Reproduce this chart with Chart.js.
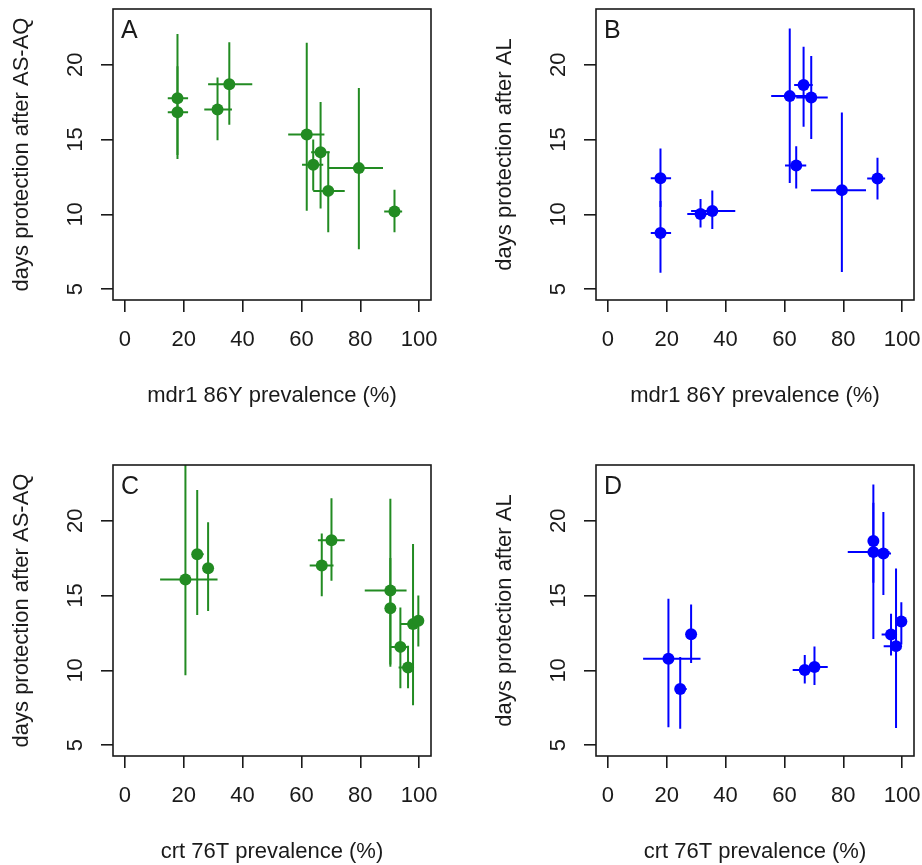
<!DOCTYPE html>
<html>
<head>
<meta charset="utf-8">
<script src="https://cdn.jsdelivr.net/npm/chart.js@4/dist/chart.umd.min.js"></script>
<style>
    body { margin: 0; background: #fff; }
    #wrap { position: relative; width: 922px; height: 865px; }
    canvas { position: absolute; }
</style>
</head>
<body>
<div id="wrap">
    <canvas id="panelA" width="439" height="409" style="left:0px;top:0px"></canvas>
    <canvas id="panelB" width="439" height="409" style="left:483px;top:0px"></canvas>
    <canvas id="panelC" width="439" height="409" style="left:0px;top:456px"></canvas>
    <canvas id="panelD" width="439" height="409" style="left:483px;top:456px"></canvas>
</div>
<script>
// one entry per study site
const crt = [20.6, 24.6, 28.3, 66.9, 70.2, 90.2, 90.2, 93.6, 96.2, 97.9, 99.7]
const crtLo = [12.0, 23.0, 27.4, 62.8, 65.6, 81.5, 89.0, 90.2, 93.0, 93.7, 98.9]
const crtHi = [31.5, 26.8, 29.3, 70.9, 74.7, 95.7, 91.4, 96.2, 98.2, 99.7, 100.4]

const mdr = [null, 17.9, 17.9, 31.5, 35.5, 61.8, 66.5, 69.1, 91.6, 79.5, 64.0]
const mdrLo = [null, 14.6, 14.6, 27.0, 28.3, 55.5, 63.3, 64.0, 88.1, 69.0, 60.2]
const mdrHi = [null, 21.5, 21.5, 36.4, 43.3, 67.8, 69.6, 74.7, 94.2, 87.7, 67.4]

const asaq = [16.07, 17.75, 16.83, 17.0, 18.7, 15.33, 14.15, 11.57, 10.2, 13.09, 13.32]
const asaqLo = [9.67, 13.7, 13.96, 14.95, 15.98, 10.24, 10.4, 8.8, 8.8, 7.67, 11.6]
const asaqHi = [25.5, 22.05, 19.9, 19.15, 21.5, 21.46, 17.5, 14.2, 11.65, 18.45, 15.0]

const al = [10.78, 8.75, 12.42, 10.03, 10.23, 17.9, 18.64, 17.8, 12.4, 11.62, 13.26]
const alLo = [6.2, 6.1, 10.5, 9.13, 9.03, 12.1, 15.85, 15.03, 11.0, 6.15, 11.73]
const alHi = [14.78, 10.9, 14.4, 11.03, 11.6, 22.42, 21.2, 20.58, 13.78, 16.8, 14.55]

const xTicks = [0, 20, 40, 60, 80, 100]
const yTicks = [5, 10, 15, 20]

const GREEN = '#228B22'
const BLUE = '#0000FF'
const INK = '#1a1a1a'
const FONT = '"Liberation Sans", Arial, Helvetica, sans-serif'

Chart.defaults.font.family = FONT
Chart.defaults.font.size = 22
Chart.defaults.color = INK

// error bars, frame, panel letter and rotated y labels (R style)
const rDecor = {
    id: 'rDecor',
    beforeDatasetsDraw(chart) {
        const ctx = chart.ctx
        const a = chart.chartArea
        const sx = chart.scales.x
        const sy = chart.scales.y
        ctx.save()
        ctx.beginPath()
        ctx.rect(a.left, a.top, a.right - a.left, a.bottom - a.top)
        ctx.clip()
        chart.data.datasets.forEach(ds => {
            ctx.strokeStyle = ds.backgroundColor
            ctx.lineWidth = 2
            ds.data.forEach(p => {
                const px = sx.getPixelForValue(p.x)
                const py = sy.getPixelForValue(p.y)
                ctx.beginPath()
                ctx.moveTo(sx.getPixelForValue(p.xMin), py)
                ctx.lineTo(sx.getPixelForValue(p.xMax), py)
                ctx.moveTo(px, sy.getPixelForValue(p.yMin))
                ctx.lineTo(px, sy.getPixelForValue(p.yMax))
                ctx.stroke()
            })
        })
        ctx.restore()
    },
    afterDraw(chart, args, opts) {
        const ctx = chart.ctx
        const a = chart.chartArea
        const sy = chart.scales.y
        ctx.save()
        ctx.strokeStyle = INK
        ctx.lineWidth = 1.6
        ctx.strokeRect(a.left, a.top, a.right - a.left, a.bottom - a.top)

        ctx.fillStyle = INK
        ctx.font = '25px ' + FONT
        ctx.textAlign = 'left'
        ctx.textBaseline = 'alphabetic'
        ctx.fillText(opts.letter, a.left + 8, a.top + 29)

        ctx.font = '22px ' + FONT
        ctx.textAlign = 'center'
        sy.ticks.forEach(t => {
            ctx.save()
            ctx.translate(a.left - 31, sy.getPixelForValue(t.value))
            ctx.rotate(-Math.PI / 2)
            ctx.fillText(String(t.value), 0, 0)
            ctx.restore()
        })
        ctx.restore()
    }
}

function buildPoints(xs, xLo, xHi, ys, yLo, yHi) {
    const pts = []
    xs.forEach((x, i) => {
        if (x == null) return
        pts.push({ x: x, y: ys[i], xMin: xLo[i], xMax: xHi[i], yMin: yLo[i], yMax: yHi[i] })
    })
    return pts
}

function makePanel(id, letter, points, color, xTitle, yTitle) {
    const tickGrid = {
        drawOnChartArea: false,
        drawTicks: true,
        tickLength: 12,
        color: INK,
        lineWidth: 1.6
    }
    return new Chart(document.getElementById(id), {
        type: 'scatter',
        data: {
            datasets: [{
                data: points,
                backgroundColor: color,
                borderWidth: 0,
                pointRadius: 6,
                pointHoverRadius: 6
            }]
        },
        options: {
            responsive: false,
            animation: false,
            events: [],
            devicePixelRatio: 1,
            layout: { padding: { left: 0, top: 9, right: 8, bottom: 0 } },
            plugins: {
                legend: { display: false },
                tooltip: { enabled: false },
                rDecor: { letter: letter }
            },
            scales: {
                x: {
                    type: 'linear',
                    min: -4,
                    max: 104,
                    afterBuildTicks: s => { s.ticks = xTicks.map(v => ({ value: v })) },
                    afterFit: s => {
                        s.height = 109
                        s.paddingLeft = 0
                        s.paddingRight = 0
                    },
                    ticks: { autoSkip: false, maxRotation: 0, padding: 15, color: INK },
                    grid: tickGrid,
                    border: { display: false },
                    title: { display: true, text: xTitle, color: INK, padding: { top: 0, bottom: 0 } }
                },
                y: {
                    type: 'linear',
                    min: 4.28,
                    max: 23.72,
                    afterBuildTicks: s => { s.ticks = yTicks.map(v => ({ value: v })) },
                    afterFit: s => {
                        s.width = 113
                        s.paddingTop = 0
                        s.paddingBottom = 0
                    },
                    ticks: { display: false },
                    grid: tickGrid,
                    border: { display: false },
                    title: { display: true, text: yTitle, color: INK, padding: { top: 9, bottom: 0 } }
                }
            }
        },
        plugins: [rDecor]
    })
}

makePanel('panelA', 'A', buildPoints(mdr, mdrLo, mdrHi, asaq, asaqLo, asaqHi), GREEN,
    'mdr1 86Y prevalence (%)', 'days protection after AS-AQ')
makePanel('panelB', 'B', buildPoints(mdr, mdrLo, mdrHi, al, alLo, alHi), BLUE,
    'mdr1 86Y prevalence (%)', 'days protection after AL')
makePanel('panelC', 'C', buildPoints(crt, crtLo, crtHi, asaq, asaqLo, asaqHi), GREEN,
    'crt 76T prevalence (%)', 'days protection after AS-AQ')
makePanel('panelD', 'D', buildPoints(crt, crtLo, crtHi, al, alLo, alHi), BLUE,
    'crt 76T prevalence (%)', 'days protection after AL')
</script>
</body>
</html>
